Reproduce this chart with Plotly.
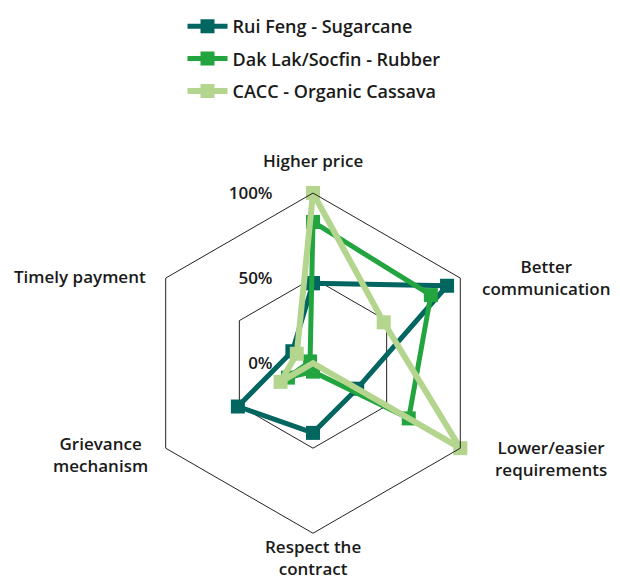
import plotly.graph_objects as go

categories = [
    "Higher price",
    "Better communication",
    "Lower/easier requirements",
    "Respect the contract",
    "Grievance mechanism",
    "Timely payment",
]

rui_feng = [0.47, 0.91, 0.30, 0.41, 0.51, 0.14]
dak_lak = [0.83, 0.80, 0.65, 0.05, 0.17, 0.02]
cacc = [1.00, 0.48, 1.00, 0.00, 0.22, 0.11]

series_names = ["Rui Feng - Sugarcane", "Dak Lak/Socfin - Rubber", "CACC - Organic Cassava"]
series_values = [rui_feng, dak_lak, cacc]
series_colors = ["#00665f", "#22a53f", "#b4d58d"]
line_widths = [5, 5, 6]

tick_vals = [0, 0.5, 1]
tick_text = ["0%", "50%", "100%"]

# page body has an 8px margin, so page pixels are shifted by OFF
OFF = 8
W, H = 612, 571

# label text and where its centre sits on the page (pixels)
axis_labels = [
    ("Higher price", 313, 158),
    ("Better<br>communication", 546, 276),
    ("Lower/easier<br>requirements", 551, 458),
    ("Respect the<br>contract", 313, 557),
    ("Grievance<br>mechanism", 100, 454),
    ("Timely payment", 80, 275),
]

font = dict(family="Open Sans", size=17, color="#1a1a1a", weight=600)

fig = go.Figure()
for name, vals, col, lw in zip(series_names, series_values, series_colors, line_widths):
    fig.add_trace(go.Scatterpolar(
        r=vals + vals[:1],
        theta=categories + categories[:1],
        name=name,
        legendgroup=name,
        mode="lines+markers",
        line=dict(color=col, width=lw),
        marker=dict(symbol="square", size=14, color=col),
    ))

cx, cy, R = 313 - OFF, 362 - OFF, 171
fig.update_layout(
    width=W,
    height=H,
    margin=dict(l=0, r=0, t=0, b=0),
    paper_bgcolor="white",
    plot_bgcolor="white",
    font=font,
    showlegend=True,
    legend=dict(
        x=0.5, xanchor="center", y=1 + 3 / H, yanchor="top",
        itemwidth=40, tracegroupgap=6,
        font=dict(family="Open Sans", size=18, color="#1a1a1a", weight=600),
    ),
    polar=dict(
        domain=dict(x=[(cx - R) / W, (cx + R) / W], y=[(H - cy - R) / H, (H - cy + R) / H]),
        bgcolor="white",
        gridshape="linear",
        radialaxis=dict(
            range=[0, 1],
            angle=90,
            tickangle=90,
            side="counterclockwise",
            tickvals=tick_vals,
            ticktext=tick_text,
            ticks="outside",
            ticklen=34,
            tickcolor="rgba(0,0,0,0)",
            showline=False,
            showgrid=True,
            gridcolor="#222222",
            gridwidth=1,
            tickfont=font,
        ),
        angularaxis=dict(
            type="category",
            rotation=90,
            direction="clockwise",
            showgrid=False,
            showline=True,
            linecolor="#222222",
            linewidth=1,
            showticklabels=False,
            ticks="",
        ),
    ),
)

for text, px_, py_ in axis_labels:
    fig.add_annotation(
        text=text, x=(px_ - OFF) / W, y=1 - (py_ - OFF) / H, xref="paper", yref="paper",
        showarrow=False, align="center", xanchor="center", yanchor="middle",
        font=font,
    )

fig.write_html("out.html")
